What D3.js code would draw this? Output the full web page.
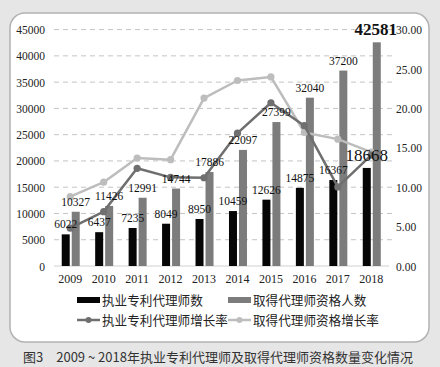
<!DOCTYPE html>
<html><head><meta charset="utf-8">
<script src="https://cdn.jsdelivr.net/npm/d3@7"></script>
<style>
html,body{margin:0;padding:0;background:#e6e6e6;}
svg{display:block;}
</style></head>
<body>
<svg id="chart" width="440" height="367"></svg>
<script>
const years = ["2009","2010","2011","2012","2013","2014","2015","2016","2017","2018"];
const agents = [6022,6437,7235,8049,8950,10459,12626,14875,16367,18668];
const qualified = [10327,11426,12991,14744,17886,22097,27399,32040,37200,42581];
const agentGrowth = [4.8,6.9,12.4,11.25,11.2,16.86,20.72,17.81,10.03,14.06];
const qualifiedGrowth = [8.8,10.64,13.7,13.49,21.31,23.54,23.99,16.94,16.1,14.46];
const leftTicks = [0,5000,10000,15000,20000,25000,30000,35000,40000,45000];
const rightTicks = [0,5,10,15,20,25,30];
const legendBars = ["执业专利代理师数","取得代理师资格人数"];
const legendLines = ["执业专利代理师增长率","取得代理师资格增长率"];
const caption = "图3　2009 ~ 2018年执业专利代理师及取得代理师资格数量变化情况";

const svg = d3.select("#chart");
const serif = "'Liberation Serif','Times New Roman',serif";
const sans = "'Noto Sans CJK SC','Noto Sans',sans-serif";

// frame
svg.append("rect").attr("x",10).attr("y",13).attr("width",419).attr("height",329)
  .attr("rx",15).attr("fill","#fff").attr("stroke","#b3b3b3").attr("stroke-width",1.5);

const x = d3.scaleBand().domain(years).range([53.5,388]).paddingInner(0).paddingOuter(0);
const yL = d3.scaleLinear().domain([0,45000]).range([266,29.6]);
const yR = d3.scaleLinear().domain([0,30]).range([266,29.6]);
const cx = d => x(d) + x.bandwidth()/2;

// gridlines
svg.append("g").selectAll("line").data(leftTicks.slice(1)).join("line")
  .attr("x1",54).attr("x2",392).attr("y1",d=>yL(d)).attr("y2",d=>yL(d))
  .attr("stroke","#c4c4c4").attr("stroke-width",1).attr("stroke-dasharray","5,4");
svg.append("line").attr("x1",54).attr("x2",389).attr("y1",yL(0)).attr("y2",yL(0))
  .attr("stroke","#d0d0d0").attr("stroke-width",1);

// left axis
const axL = d3.axisLeft(yL).tickValues(leftTicks).tickSize(0).tickPadding(0).tickFormat(d3.format("d"));
const gL = svg.append("g").attr("transform","translate(45,0)").call(axL);
gL.select(".domain").remove();
gL.selectAll("text").attr("font-family",serif).attr("font-size",11.5).attr("fill","#222").attr("dy","0.35em");

// right axis
const axR = d3.axisRight(yR).tickValues(rightTicks).tickSize(0).tickPadding(0).tickFormat(d3.format(".2f"));
const gR = svg.append("g").attr("transform","translate(396,0)").call(axR);
gR.select(".domain").remove();
gR.selectAll("text").attr("font-family",serif).attr("font-size",11.5).attr("fill","#222").attr("dy","0.35em");

// bottom axis
const axB = d3.axisBottom(x).tickSize(0).tickPadding(0);
const gB = svg.append("g").attr("transform","translate(0,274)").call(axB);
gB.select(".domain").remove();
gB.selectAll("text").attr("font-family",serif).attr("font-size",12).attr("fill","#222").attr("dy","0.71em");

// bars
const bw = 8;
svg.append("g").selectAll("rect").data(years).join("rect")
  .attr("x",(d)=>cx(d)-8.5).attr("width",bw)
  .attr("y",(d,i)=>yL(agents[i])).attr("height",(d,i)=>yL(0)-yL(agents[i]))
  .attr("fill","#060606");
svg.append("g").selectAll("rect").data(years).join("rect")
  .attr("x",(d)=>cx(d)+1.5).attr("width",bw)
  .attr("y",(d,i)=>yL(qualified[i])).attr("height",(d,i)=>yL(0)-yL(qualified[i]))
  .attr("fill","#7c7c7c");

// lines
function drawLine(vals,color){
  const pts = years.map((d,i)=>[cx(d),yR(vals[i])]);
  svg.append("path").attr("d",d3.line()(pts)).attr("fill","none")
    .attr("stroke",color).attr("stroke-width",2.5).attr("stroke-linejoin","round");
  svg.append("g").selectAll("circle").data(pts).join("circle")
    .attr("cx",p=>p[0]).attr("cy",p=>p[1]).attr("r",3.6).attr("fill",color);
}
drawLine(qualifiedGrowth,"#bdbdbd");
drawLine(agentGrowth,"#6f6f6f");

// value labels
svg.append("g").selectAll("text").data(years).join("text")
  .attr("x",(d)=>cx(d)-4.5).attr("y",(d,i)=>yL(agents[i])-(i===9?7:6))
  .attr("text-anchor","middle").attr("font-family",serif)
  .attr("font-size",(d,i)=>i===9?17:11.5).attr("fill","#111")
  .text((d,i)=>agents[i]);
svg.append("g").selectAll("text").data(years).join("text")
  .attr("x",(d,i)=>cx(d)+5.5+(i===9?-1:0)).attr("y",(d,i)=>yL(qualified[i])-(i===9?7:6))
  .attr("text-anchor","middle").attr("font-family",serif)
  .attr("font-size",(d,i)=>i===9?17:11.5).attr("font-weight",(d,i)=>i===9?"bold":"normal").attr("fill","#111")
  .text((d,i)=>qualified[i]);

// legend
const lg = svg.append("g").attr("font-family",sans).attr("font-size",12.6).attr("fill","#222");
const lx = [77,228];
const barCols = ["#060606","#7c7c7c"];
const lineCols = ["#6f6f6f","#bdbdbd"];
legendBars.forEach((t,i)=>{
  lg.append("rect").attr("x",lx[i]).attr("y",297).attr("width",23).attr("height",6).attr("fill",barCols[i]);
  lg.append("text").attr("x",lx[i]+25).attr("y",304.5).text(t);
});
legendLines.forEach((t,i)=>{
  lg.append("line").attr("x1",lx[i]).attr("x2",lx[i]+23).attr("y1",320).attr("y2",320)
    .attr("stroke",lineCols[i]).attr("stroke-width",2.5);
  lg.append("circle").attr("cx",lx[i]+11.5).attr("cy",320).attr("r",3).attr("fill",lineCols[i]);
  lg.append("text").attr("x",lx[i]+25).attr("y",324.5).text(t);
});

// caption
svg.append("text").attr("x",23).attr("y",361.5).attr("font-family",sans)
  .attr("font-size",13).attr("fill","#333").text(caption);
</script>
</body></html>
